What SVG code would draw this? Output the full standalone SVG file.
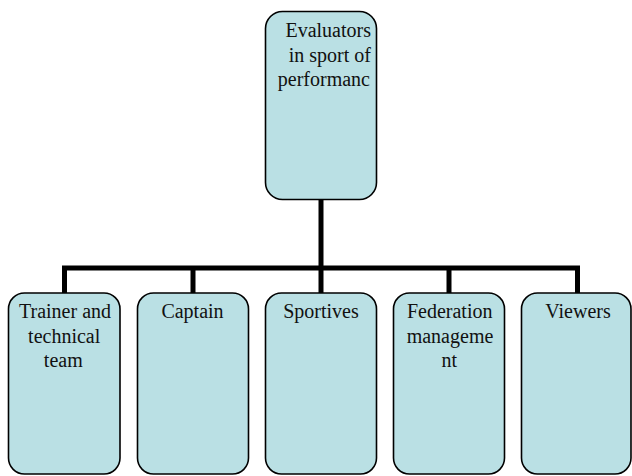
<svg xmlns="http://www.w3.org/2000/svg" width="632" height="476" viewBox="0 0 632 476">
<style>
.box{fill:#BAE0E4;stroke:#000;stroke-width:1.6}
.t{font-family:"Liberation Serif","Times New Roman",serif;font-size:20px;fill:#111}
.c{text-anchor:middle}
.e{text-anchor:end}
.conn{fill:none;stroke:#000;stroke-width:5;stroke-linejoin:miter;stroke-linecap:butt}
</style>
<rect width="632" height="476" fill="#fff"/>
<g id="connectors">
<path class="conn" d="M321,199 V268"/>
<path class="conn" d="M64.5,293 V268 H577.5 V293"/>
<path class="conn" d="M193,268 V293"/>
<path class="conn" d="M321,268 V293"/>
<path class="conn" d="M449,268 V293"/>
</g>
<g id="root">
<rect class="box" x="265.5" y="11.5" width="111" height="188" rx="17"/>
<text class="t e" x="371" y="37">Evaluators</text>
<text class="t e" x="371" y="61.5">in sport of</text>
<text class="t e" x="370" y="85.5">performanc</text>
</g>
<g id="trainer">
<rect class="box" x="8.5" y="293" width="111.5" height="181" rx="16"/>
<text class="t c" x="65" y="317.5">Trainer and</text>
<text class="t c" x="64.2" y="342.5">technical</text>
<text class="t c" x="63.3" y="367">team</text>
</g>
<g id="captain">
<rect class="box" x="137.5" y="293" width="111" height="181" rx="16"/>
<text class="t c" x="192.5" y="317.5">Captain</text>
</g>
<g id="sportives">
<rect class="box" x="265.5" y="293" width="111" height="181" rx="16"/>
<text class="t c" x="321" y="317.5">Sportives</text>
</g>
<g id="federation">
<rect class="box" x="393.5" y="293" width="111" height="181" rx="16"/>
<text class="t c" x="449.7" y="317.5">Federation</text>
<text class="t c" x="450" y="342.5">manageme</text>
<text class="t c" x="449.3" y="367">nt</text>
</g>
<g id="viewers">
<rect class="box" x="521.5" y="293" width="109.5" height="181" rx="16"/>
<text class="t c" x="578" y="317.5">Viewers</text>
</g>
</svg>
